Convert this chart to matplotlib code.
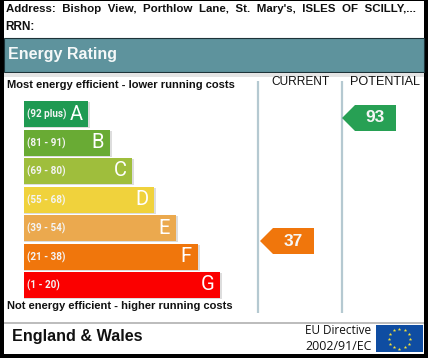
import numpy as np
from matplotlib import pyplot as plt
from matplotlib.patches import Polygon, Rectangle

plt.rcParams['font.family'] = ['Liberation Sans', 'DejaVu Sans']

# EPC bands, top to bottom
letters = ['A', 'B', 'C', 'D', 'E', 'F', 'G']
ranges = ['(92 plus)', '(81 - 91)', '(69 - 80)', '(55 - 68)', '(39 - 54)', '(21 - 38)', '(1 - 20)']
lengths = [64, 86, 108, 130, 152, 174, 196]
colours = ['#1f9a52', '#69ab34', '#9fbe3c', '#f0d23c', '#eba94e', '#f0760c', '#fb0000']

current = 37
potential = 93
current_colour = '#f0760c'
potential_colour = '#27a054'

address = "Address:  Bishop  View,  Porthlow  Lane,  St.  Mary's,  ISLES  OF  SCILLY,..."

# everything is laid out in pixels of the 428x358 picture
fig = plt.figure(figsize=(4.28, 3.58), dpi=100, facecolor='white')
ax = fig.add_axes([0, 0, 1, 1])
ax.set_xlim(0, 428)
ax.set_ylim(358, 0)
ax.axis('off')

# black frame
ax.add_patch(Rectangle((0, 0), 428, 358, fc='black', ec='none', zorder=0))
ax.add_patch(Rectangle((4, 1), 420, 353, fc='white', ec='none', zorder=1))

ax.text(6, 9.5, address, fontsize=8.25, fontweight='bold', va='center', color='#111111', zorder=5)
ax.text(5, 27, 'RRN:', fontsize=8.5, fontweight='bold', va='center', color='#111111', zorder=5)

# header band
ax.add_patch(Rectangle((4, 38), 420, 34, fc='#5e939d', ec='#1d3338', lw=0.8, zorder=2))
ax.add_patch(Rectangle((4, 72.5), 420, 4, fc='#e4e4e4', ec='none', zorder=2))
ax.text(8, 54.5, 'Energy Rating', fontsize=11.5, fontweight='bold', color='#f4f8f8', va='center', zorder=5)

ax.text(7.5, 85, 'Most energy efficient - lower running costs', fontsize=8.05, fontweight='bold', va='center', color='#111111', zorder=5)
ax.text(7.5, 306, 'Not energy efficient - higher running costs', fontsize=8.05, fontweight='bold', va='center', color='#111111', zorder=5)
ax.text(300.5, 82, 'CURRENT', fontsize=8.6, ha='center', va='center', color='#111111', zorder=5)
ax.text(385, 82, 'POTENTIAL', fontsize=9.1, ha='center', va='center', color='#111111', zorder=5)

# column rules
ax.vlines([258, 342], 81, 312.5, color='#b5c9d1', lw=1.6, zorder=2)

# bands
ys = np.linspace(114, 285, 7)
ax.barh(ys + 1.2, np.array(lengths) + 2, height=26, left=24, color='#dddddd', zorder=2)
ax.barh(ys, lengths, height=26, left=24, color=colours, zorder=3)
for y, n, letter, rng in zip(ys, lengths, letters, ranges):
    ax.text(27.5, y + 0.5, rng, fontsize=7.1, fontweight='bold', family=['Roboto', 'DejaVu Sans'], color='#f4f4f4', va='center', zorder=5)
    ax.text(24 + n - 12, y, letter, fontsize=14.5, family=['Roboto', 'DejaVu Sans'], color='white', ha='center', va='center', zorder=5)


# score flags, y position follows the score
def score_y(score):
    return 118 + (93 - score) * 123 / 56


def flag(score, tip, colour):
    y = score_y(score)
    pts = [(tip, y), (tip + 13, y - 13), (tip + 54, y - 13), (tip + 54, y + 13), (tip + 13, y + 13)]
    ax.add_patch(Polygon(pts, closed=True, fc=colour, ec='none', zorder=3))
    ax.text(tip + 33.5, y, str(score), fontsize=12.5, fontweight='bold', color='#f6f6f6', ha='center', va='center', zorder=5)


flag(current, 260, current_colour)
flag(potential, 342, potential_colour)

# footer
ax.add_patch(Rectangle((4, 322), 420, 2.2, fc='#bdbdbd', ec='none', zorder=2))
ax.text(12, 336.5, 'England & Wales', fontsize=11.6, fontweight='bold', va='center', color='#111111', zorder=5)
ax.text(371, 331, 'EU Directive', fontsize=8.5, family=['Open Sans', 'DejaVu Sans'], ha='right', va='center', color='#111111', zorder=5)
ax.text(372, 346.5, '2002/91/EC', fontsize=8.9, family=['Open Sans', 'DejaVu Sans'], ha='right', va='center', color='#111111', zorder=5)

# EU flag
ax.add_patch(Rectangle((376, 325), 47, 27, fc='#0f4da2', ec='none', zorder=3))
angles = np.deg2rad(np.arange(0, 360, 30))
ax.scatter(399.5 + 10.5 * np.cos(angles), 338.5 + 10 * np.sin(angles), marker='*', s=7, color='#f4e23a', linewidths=0, zorder=4)

fig.savefig('out.png', dpi=100)
